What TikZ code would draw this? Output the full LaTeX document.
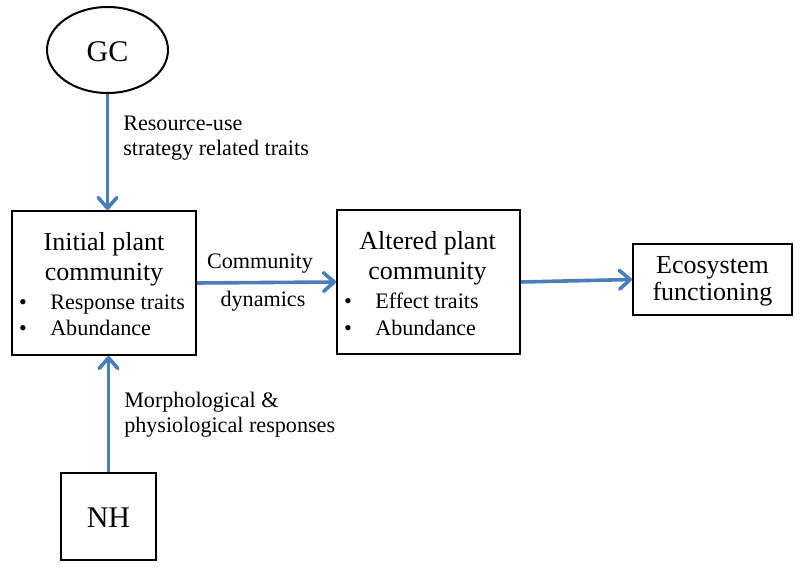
\documentclass[tikz,border=0pt]{standalone}
\usepackage{fontspec}
\setmainfont{Liberation Serif}
\usetikzlibrary{arrows.meta,shapes.geometric}
\definecolor{arrowblue}{HTML}{4A7EBB}
\tikzset{
  boxnode/.style={draw=black, line width=1.5pt, inner sep=0pt, fill=white},
  bigtxt/.style={font=\fontsize{19.5}{22}\selectfont, inner sep=0pt},
  smalltxt/.style={font=\fontsize{16.6}{19}\selectfont, inner sep=0pt},
  hugetxt/.style={font=\fontsize{22.5}{25}\selectfont, inner sep=0pt},
  flow/.style={draw=arrowblue, line width=2.7pt, -{Straight Barb[length=8pt,width=14pt,line join=round,line cap=round]}}
}
\begin{document}
\begin{tikzpicture}[x=0.75pt,y=-0.75pt]
\useasboundingbox (0,0) rectangle (800,567);
% nodes
\node[boxnode, ellipse, minimum width=90.75pt, minimum height=64.5pt] (gc) at (107.5,50) {};
\node[boxnode, minimum width=138pt, minimum height=108pt] (init) at (104,283) {};
\node[boxnode, minimum width=137.25pt, minimum height=108pt] (alt) at (428.5,282) {};
\node[boxnode, minimum width=119.25pt, minimum height=53.25pt] (eco) at (712.5,279.5) {};
\node[boxnode, minimum width=71.25pt, minimum height=65.25pt] (nh) at (108.5,516.5) {};
% texts
\node[hugetxt, anchor=base] (gct) at (107.5,62) {GC};
\node[hugetxt, anchor=base] (nht) at (108.5,527) {NH};
\node[bigtxt, anchor=base] (i1) at (104,250) {Initial plant};
\node[bigtxt, anchor=base] (i2) at (104,280) {community};
\node[smalltxt, anchor=base] (ib1) at (23,309) {\textbullet};
\node[smalltxt, anchor=base west] (it1) at (50,309) {Response traits};
\node[smalltxt, anchor=base] (ib2) at (23,335) {\textbullet};
\node[smalltxt, anchor=base west] (it2) at (50,335) {Abundance};
\node[bigtxt, anchor=base] (a1) at (427.5,249) {Altered plant};
\node[bigtxt, anchor=base] (a2) at (427.5,279) {community};
\node[smalltxt, anchor=base] (ab1) at (348,308) {\textbullet};
\node[smalltxt, anchor=base west] (at1) at (375,308) {Effect traits};
\node[smalltxt, anchor=base] (ab2) at (348,335) {\textbullet};
\node[smalltxt, anchor=base west] (at2) at (375,335) {Abundance};
\node[bigtxt, anchor=base] (e1) at (712.5,273) {Ecosystem};
\node[bigtxt, anchor=base] (e2) at (712.5,300) {functioning};
% connector labels
\node[smalltxt, anchor=base west] (l1) at (123,130) {Resource-use};
\node[smalltxt, anchor=base west] (l2) at (123,155) {strategy related traits};
\node[smalltxt, anchor=base] (l3) at (260,268) {Community};
\node[smalltxt, anchor=base] (l4) at (263,306) {dynamics};
\node[smalltxt, anchor=base west] (l5) at (124,407) {Morphological \&};
\node[smalltxt, anchor=base west] (l6) at (124,432) {physiological responses};
% connectors
\draw[flow] (gc.south) -- (gc.south |- init.north);
\draw[flow] (init.east) -- (alt.west);
\draw[flow] (alt.east) -- (eco.west);
\draw[flow] (nh.north) -- (nh.north |- init.south);
\end{tikzpicture}
\end{document}
